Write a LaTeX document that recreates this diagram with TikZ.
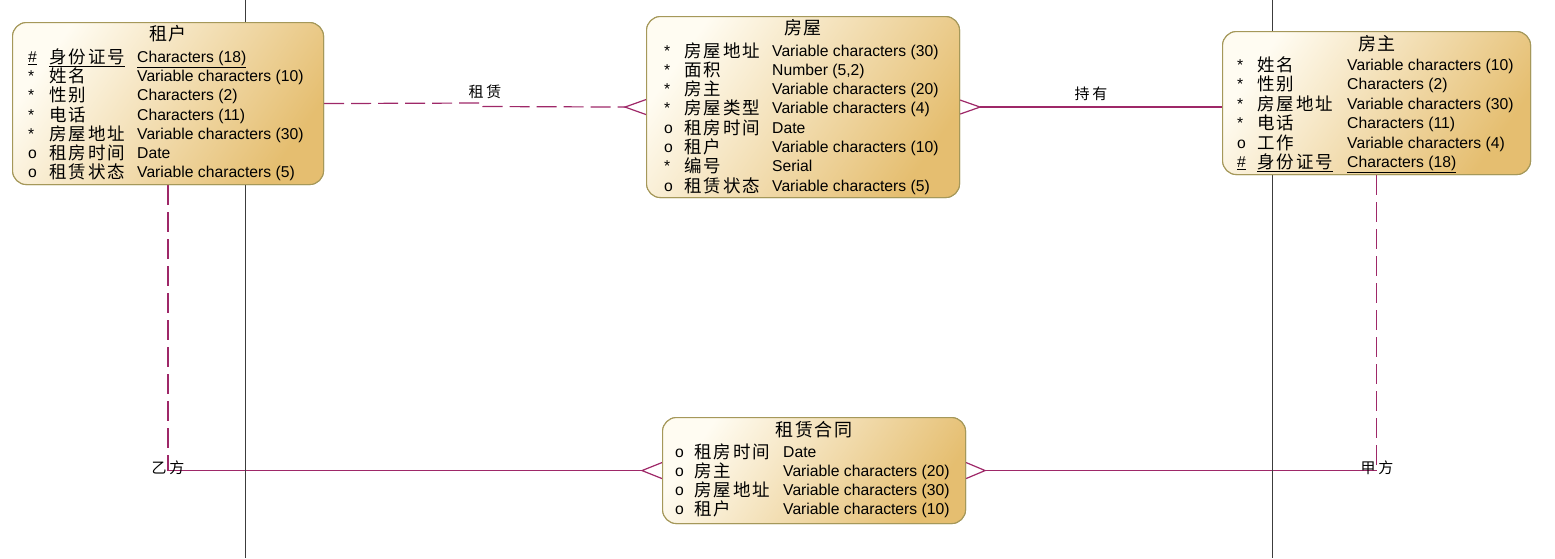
\documentclass[tikz,border=0pt]{standalone}
\usepackage{fontspec}
\setmainfont{Liberation Sans}
\newfontfamily\cjk[LetterSpace=11]{Noto Sans CJK SC}
\newfontfamily\cjkt[LetterSpace=8]{Noto Sans CJK SC}
\newfontfamily\cjkl[LetterSpace=18]{Noto Sans CJK SC}
\definecolor{relc}{RGB}{158,40,104}
\definecolor{bord}{RGB}{165,152,90}
\definecolor{fillA}{RGB}{255,252,242}
\definecolor{fillB}{RGB}{229,190,112}
\definecolor{axisline}{RGB}{60,60,60}
\tikzset{
 entity/.style={draw=bord, line width=1.1pt, rounded corners=14pt, top color=fillA, bottom color=fillB, shading angle=55, inner sep=0pt, anchor=north west},
 ttl/.style={inner sep=0pt, anchor=base, font=\fontsize{18}{18}\cjkt},
 mk/.style={inner sep=0pt, anchor=base west, font=\fontsize{15.7}{16}\selectfont},
 attr/.style={inner sep=0pt, anchor=base west, font=\fontsize{17.5}{18}\cjk},
 typ/.style={inner sep=0pt, anchor=base west, font=\fontsize{15.7}{16}\selectfont},
 relline/.style={draw=relc, line width=1.2pt},
 reldash/.style={relline, dash pattern=on 20pt off 7pt},
 crow/.style={draw=relc, line width=1.2pt, line join=miter},
 rlabel/.style={inner sep=0pt, font=\fontsize{15}{15}\cjkl},
 vline/.style={draw=axisline, line width=1.1pt},
}
\newcommand\erow[5]{%
 \node[mk] (#1m) at (\mx,#2+5.5) {#3};
 \node[attr] (#1a) at (\ax,#2+6.5) {#4};
 \node[typ] (#1t) at (\tx,#2+5.5) {#5};}
\begin{document}
\begin{tikzpicture}[x=1pt,y=-1pt]
\useasboundingbox (0,0) rectangle (1555,558);
% entity boxes (placed first for anchors)
\path (12,22) node[entity, minimum width=311pt, minimum height=162pt] (zh) {};
\path (646,16) node[entity, minimum width=313pt, minimum height=181pt] (fw) {};
\path (1222,31) node[entity, minimum width=308pt, minimum height=143pt] (fz) {};
\path (662,417) node[entity, minimum width=303pt, minimum height=106pt] (ht) {};
% connectors
\coordinate (j1) at (483,103);
\coordinate (j2) at (483,106.5);
\coordinate (cf1) at ([xshift=-21pt]fw.west);
\coordinate (cf2) at ([xshift=20pt]fw.east);
\coordinate (cf3) at ([xshift=-20pt]ht.west);
\coordinate (cf4) at ([xshift=19pt]ht.east);
\coordinate (yi) at (zh.south |- ht.west);
\coordinate (jia) at (fz.south |- ht.east);
\draw[reldash] (zh.east) -- (j1) -- (j2) -- (cf1);
\draw[crow] ([yshift=7.5pt]fw.west) -- (cf1) -- ([yshift=-7.5pt]fw.west);
\draw[relline] (cf2) -- (cf2 -| fz.west);
\draw[crow] ([yshift=7pt]fw.east) -- (cf2) -- ([yshift=-7pt]fw.east);
\draw[reldash] (zh.south) -- (yi);
\draw[relline] (yi) -- (cf3);
\draw[crow] ([yshift=8pt]ht.west) -- (cf3) -- ([yshift=-8pt]ht.west);
\draw[reldash] (fz.south) -- (jia);
\draw[relline] (jia) -- (cf4);
\draw[crow] ([yshift=8pt]ht.east) -- (cf4) -- ([yshift=-8pt]ht.east);
% page lines
\coordinate (v1t) at (245.5,0); \coordinate (v1b) at (245.5,558);
\coordinate (v2t) at (1272.5,0); \coordinate (v2b) at (1272.5,558);
\draw[vline] (v1t) -- (v1b);
\draw[vline] (v2t) -- (v2b);
% boxes on top
\path (12,22) node[entity, minimum width=311pt, minimum height=162pt] (zhb) {};
\path (646,16) node[entity, minimum width=313pt, minimum height=181pt] (fwb) {};
\path (1222,31) node[entity, minimum width=308pt, minimum height=143pt] (fzb) {};
\path (662,417) node[entity, minimum width=303pt, minimum height=106pt] (htb) {};
% 租户
\node[ttl] (zht) at (168,40) {租户};
\def\mx{28}\def\ax{49}\def\tx{137}
\erow{zh1}{57}{\underline{\#}}{\underline{身份证号}}{\underline{Characters (18)}}
\erow{zh2}{76.2}{*}{姓名}{Variable characters (10)}
\erow{zh3}{95.4}{*}{性别}{Characters (2)}
\erow{zh4}{114.6}{*}{电话}{Characters (11)}
\erow{zh5}{133.8}{*}{房屋地址}{Variable characters (30)}
\erow{zh6}{153}{o}{租房时间}{Date}
\erow{zh7}{172.2}{o}{租赁状态}{Variable characters (5)}
% 房屋
\node[ttl] (fwt) at (803,34) {房屋};
\def\mx{664}\def\ax{684}\def\tx{772}
\erow{fw1}{50.5}{*}{房屋地址}{Variable characters (30)}
\erow{fw2}{69.8}{*}{面积}{Number (5,2)}
\erow{fw3}{89.1}{*}{房主}{Variable characters (20)}
\erow{fw4}{108.4}{*}{房屋类型}{Variable characters (4)}
\erow{fw5}{127.7}{o}{租房时间}{Date}
\erow{fw6}{147}{o}{租户}{Variable characters (10)}
\erow{fw7}{166.3}{*}{编号}{Serial}
\erow{fw8}{185.6}{o}{租赁状态}{Variable characters (5)}
% 房主
\node[ttl] (fzt) at (1377,50) {房主};
\def\mx{1237}\def\ax{1257}\def\tx{1347}
\erow{fz1}{65}{*}{姓名}{Variable characters (10)}
\erow{fz2}{84.4}{*}{性别}{Characters (2)}
\erow{fz3}{103.8}{*}{房屋地址}{Variable characters (30)}
\erow{fz4}{123.2}{*}{电话}{Characters (11)}
\erow{fz5}{142.6}{o}{工作}{Variable characters (4)}
\erow{fz6}{162}{\underline{\#}}{\underline{身份证号}}{\underline{Characters (18)}}
% 租赁合同
\node[ttl] (htt) at (814,436) {租赁合同};
\def\mx{675}\def\ax{694}\def\tx{783}
\erow{ht1}{451.5}{o}{租房时间}{Date}
\erow{ht2}{470.6}{o}{房主}{Variable characters (20)}
\erow{ht3}{489.7}{o}{房屋地址}{Variable characters (30)}
\erow{ht4}{508.8}{o}{租户}{Variable characters (10)}
% relation labels
\node[rlabel] (l1) at (485,92) {租赁};
\node[rlabel] (l2) at (1091,94) {持有};
\node[rlabel] (l3) at (168,468) {乙方};
\node[rlabel] (l4) at (1377,468) {甲方};
\end{tikzpicture}
\end{document}
